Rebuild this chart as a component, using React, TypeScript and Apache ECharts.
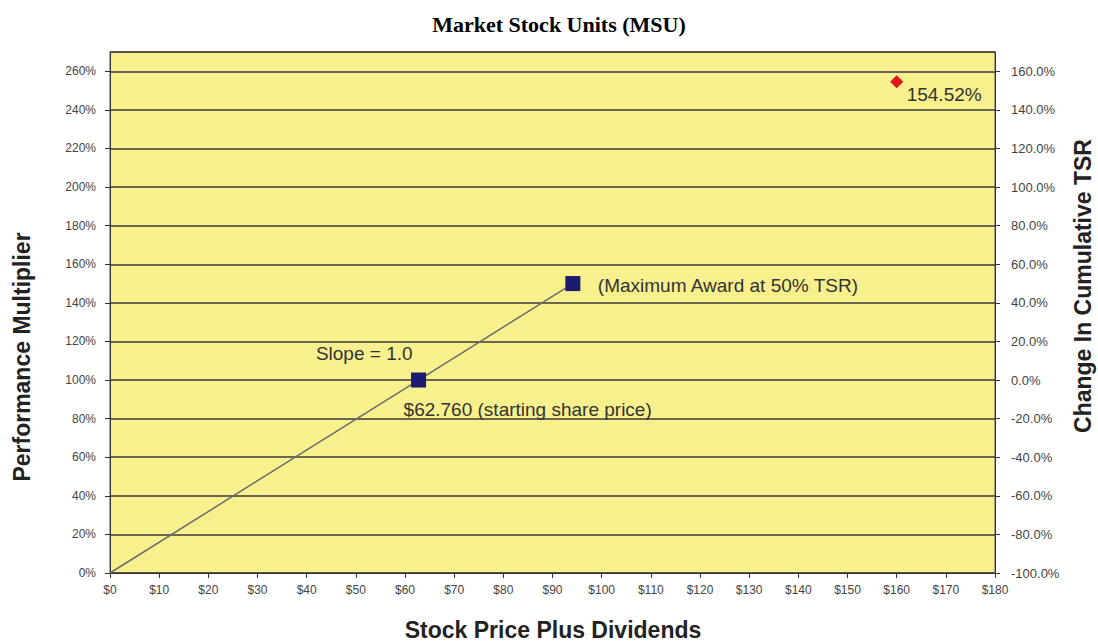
import React, { useEffect, useRef } from "react";
import * as echarts from "echarts";

const lineData: [number, number][] = [[0, 0], [62.76, 100], [94.14, 150]];
const squarePoints: [number, number][] = [[62.76, 100], [94.14, 150]];
const squareLabels = ["$62.760 (starting share price)", "(Maximum Award at 50% TSR)"];
const redPoint: [number, number] = [160, 254.52];
const redLabel = "154.52%";
const slopeLabel = "Slope = 1.0";

const FONT = "'Liberation Sans', Arial, sans-serif";

export default function App() {
  const ref = useRef<HTMLDivElement>(null);
  useEffect(() => {
    document.body.style.margin = "0";
    const chart = echarts.init(ref.current!, null, { renderer: "svg" });
    chart.setOption({
      animation: false,
      backgroundColor: "#ffffff",
      title: {
        text: "Market Stock Units (MSU)",
        left: 554,
        textAlign: "center",
        top: 8,
        textStyle: { fontFamily: "'Liberation Serif', 'Times New Roman', serif", fontWeight: "bold", fontSize: 22, color: "#000" },
      },
      grid: {
        left: 110, right: 103, top: 52, bottom: 70,
        show: true, backgroundColor: "#f8f08c", borderColor: "#555", borderWidth: 1,
      },
      xAxis: {
        type: "value", min: 0, max: 180, interval: 10,
        axisLine: { show: true, lineStyle: { color: "#333", width: 1 } },
        axisTick: { show: true, length: 5, lineStyle: { color: "#333" } },
        splitLine: { show: false },
        axisLabel: { formatter: (v: number) => "$" + v, color: "#444", fontSize: 12, fontFamily: FONT, margin: 11 },
      },
      yAxis: [
        {
          type: "value", min: 0, max: 270, interval: 20, position: "left",
          axisLine: { show: true, lineStyle: { color: "#333" } },
          axisTick: { show: true, length: 5, lineStyle: { color: "#333" } },
          splitLine: { show: true, lineStyle: { color: "#3a3a3a", width: 1.5 } },
          axisLabel: {
            showMaxLabel: false,
            formatter: (v: number) => (v % 20 === 0 ? v + "%" : ""),
            color: "#444", fontSize: 12, fontFamily: FONT, margin: 14,
          },
        },
        {
          type: "value", min: -100, max: 170, interval: 20, position: "right",
          axisLine: { show: true, lineStyle: { color: "#333" } },
          axisTick: { show: true, length: 5, lineStyle: { color: "#333" } },
          splitLine: { show: false },
          axisLabel: {
            showMaxLabel: false,
            formatter: (v: number) => (v % 20 === 0 ? v.toFixed(1) + "%" : ""),
            color: "#444", fontSize: 13, fontFamily: FONT, margin: 16,
          },
        },
      ],
      graphic: [
        {
          type: "text", x: 22, y: 357, rotation: Math.PI / 2,
          style: { text: "Performance Multiplier", fontFamily: FONT, fontWeight: "bold", fontSize: 23, fill: "#222", align: "center", verticalAlign: "middle" },
        },
        {
          type: "text", x: 1083, y: 286, rotation: Math.PI / 2,
          style: { text: "Change In Cumulative TSR", fontFamily: FONT, fontWeight: "bold", fontSize: 23, fill: "#222", align: "center", verticalAlign: "middle" },
        },
        {
          type: "text", x: 553, y: 630,
          style: { text: "Stock Price Plus Dividends", fontFamily: FONT, fontWeight: "bold", fontSize: 23, fill: "#222", align: "center", verticalAlign: "middle" },
        },
      ],
      series: [
        {
          type: "line",
          data: lineData.map((d, i) => ({
            value: d,
            label: i === 1
              ? { show: true, formatter: slopeLabel, position: "inside", align: "right", verticalAlign: "middle", offset: [-6, -27], fontSize: 19, fontFamily: FONT, color: "#333" }
              : { show: false },
          })),
          showSymbol: true,
          symbol: "circle",
          symbolSize: 0,
          lineStyle: { color: "#6b6b6b", width: 1.5 },
          z: 3,
        },
        {
          type: "scatter",
          symbol: "rect",
          symbolSize: 15,
          itemStyle: { color: "#1a1a6e", opacity: 1 },
          data: squarePoints.map((d, i) => ({
            value: d,
            label: {
              show: true,
              formatter: squareLabels[i],
              position: "inside",
              align: "left",
              verticalAlign: "middle",
              offset: i === 0 ? [-15, 29] : [25, 2],
              fontSize: 19, fontFamily: FONT, color: "#333",
            },
          })),
          z: 4,
        },
        {
          type: "scatter",
          symbol: "diamond",
          symbolSize: 13,
          itemStyle: { color: "#e3151c", opacity: 1 },
          data: [{
            value: redPoint,
            label: { show: true, formatter: redLabel, position: "inside", align: "left", verticalAlign: "middle", offset: [10, 13], fontSize: 19, fontFamily: FONT, color: "#333" },
          }],
          z: 4,
        },
      ],
    });
    return () => chart.dispose();
  }, []);
  return <div ref={ref} style={{ width: 1098, height: 643 }} />;
}
